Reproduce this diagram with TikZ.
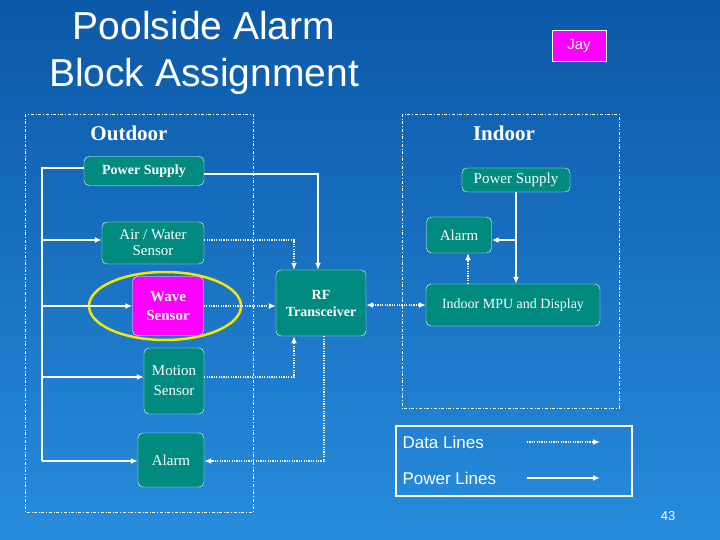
\documentclass[tikz,border=0pt]{standalone}
\usepackage{fontspec}
\setmainfont{Liberation Serif}
\newfontfamily\sansf{Liberation Sans}
\usetikzlibrary{arrows.meta}
\definecolor{bgtop}{RGB}{12,88,168}
\definecolor{bgbot}{RGB}{40,140,220}
\definecolor{teal}{RGB}{0,138,128}
\definecolor{mag}{RGB}{255,0,255}
\begin{document}
\begin{tikzpicture}[x=1pt,y=-1pt,
  tip/.tip={Latex[length=7pt,width=6pt]},
  blk/.style={draw=white,fill=teal,rounded corners=5pt,text=white,align=center,inner sep=0pt,font=\fontsize{15}{16}\selectfont},
  pw/.style={draw=white,line width=1.6pt,-tip},
  dt/.style={draw=white,line width=1.6pt,dash pattern=on 1.2pt off 1.2pt,-tip},
  zone/.style={draw=white,dash dot,line width=0.6pt}]
\shade[top color=bgtop,bottom color=bgbot] (0,0) rectangle (720,540);
\node[text=white,font=\sansf\fontsize{39}{47}\selectfont,align=center] (title) at (204,53) {Poolside Alarm\\Block Assignment};
\node[fill=mag,draw=white,minimum width=54pt,minimum height=31pt,inner sep=0pt,text=white,font=\sansf\fontsize{15}{16}\selectfont] (jay) at (579,46) {Jay};
\draw[zone] (25,114) rectangle (253,512);
\draw[zone] (402,114) rectangle (619,408);
\node[text=white,font=\bfseries\fontsize{21}{22}\selectfont] (outl) at (129,133) {Outdoor};
\node[text=white,font=\bfseries\fontsize{21}{22}\selectfont] (inl) at (504,133) {Indoor};
\node[blk,minimum width=120pt,minimum height=29pt,font=\bfseries\fontsize{14}{15}\selectfont] (ops) at (144,171) {Power Supply};
\node[blk,minimum width=102pt,minimum height=42pt] (air) at (153,243) {Air / Water\\Sensor};
\draw[yellow!90!olive,line width=2.5pt] (165,306) ellipse (76pt and 34pt);
\node[blk,fill=mag,minimum width=71pt,minimum height=59pt,font=\bfseries\fontsize{15}{19}\selectfont] (wave) at (168,306) {Wave\\Sensor};
\node[blk,minimum width=60pt,minimum height=66pt,font=\fontsize{15}{20}\selectfont] (mot) at (174,381) {Motion\\Sensor};
\node[blk,minimum width=66pt,minimum height=54pt] (oal) at (171,460) {Alarm};
\node[blk,minimum width=90pt,minimum height=66pt,font=\bfseries\fontsize{14}{17}\selectfont] (rf) at (321,303) {RF\\Transceiver};
\node[blk,minimum width=108pt,minimum height=24pt] (ips) at (516,180) {Power Supply};
\node[blk,minimum width=65pt,minimum height=36pt] (ial) at (459,235) {Alarm};
\node[blk,minimum width=174pt,minimum height=42pt,font=\fontsize{14}{15}\selectfont] (mpu) at (513,305) {Indoor MPU and Display};
% power bus
\coordinate (bt) at (42,168);
\coordinate (bb) at (42,461);
\draw[white,line width=1.6pt] (ops.west|-bt) -- (bt) -- (bb);
\draw[pw] (42,240) -- (air.west|-42,240);
\draw[pw] (42,306) -- (wave.west);
\draw[pw] (42,377) -- (mot.west|-42,377);
\draw[pw] (bb) -- (oal.west|-bb);
\draw[pw] (ops.east|-0,174) -| (rf.north-|318,0);
% data
\draw[dt] (air.east|-0,240) -| (rf.north-|294,0);
\draw[dt] (wave.east) -- (rf.west|-wave.east);
\draw[dt] (mot.east|-0,377) -| (rf.south-|294,0);
\draw[dt] (rf.south-|324,0) |- (oal.east|-0,461);
\draw[dt,tip-tip] (rf.east|-0,305) -- (mpu.west|-0,305);
% indoor
\draw[pw] (ips.south) -- (mpu.north-|ips.south);
\draw[pw] (516,240) -- (ial.east|-0,240);
\draw[dt] (mpu.north-|468,0) -- (ial.south-|468,0);
% legend
\draw[white,line width=1.5pt] (396,426) rectangle (632,496);
\node[anchor=west,text=white,font=\sansf\fontsize{17}{18}\selectfont] (ldl) at (399,442) {Data Lines};
\node[anchor=west,text=white,font=\sansf\fontsize{17}{18}\selectfont] (lpl) at (399,478) {Power Lines};
\coordinate (d1) at (527,442); \coordinate (d2) at (600,442);
\coordinate (p1) at (527,478); \coordinate (p2) at (600,478);
\draw[dt] (d1) -- (d2);
\draw[pw] (p1) -- (p2);
\node[text=white,font=\sansf\fontsize{13}{14}\selectfont] (pg) at (668,516) {43};
\end{tikzpicture}
\end{document}
